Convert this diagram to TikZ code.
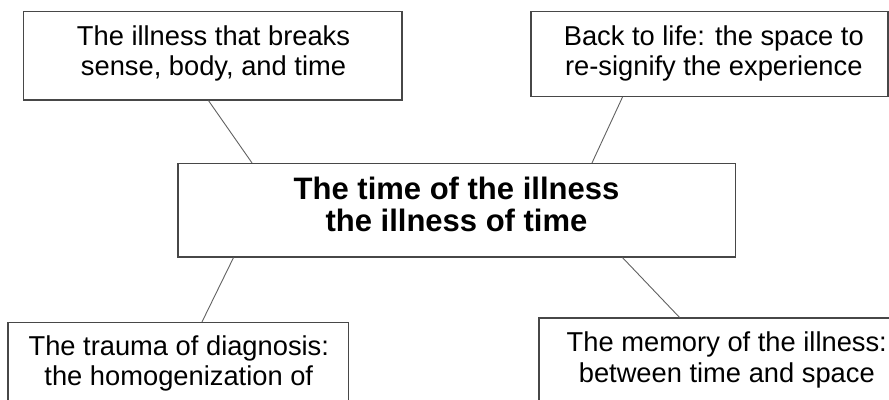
\documentclass[tikz,border=0pt]{standalone}
\usepackage{fontspec}
\setmainfont{Liberation Sans}
\begin{document}
\begin{tikzpicture}[x=1pt,y=-1pt,
  boxstyle/.style={draw=black!72, line width=1.2pt, rectangle, inner sep=0pt, fill=white},
  linkstyle/.style={draw=black!62, line width=0.9pt},
  txtstyle/.style={align=center, inner sep=0pt, anchor=north, font=\fontsize{27.3}{30.5}\selectfont},
  boldtxt/.style={align=center, inner sep=0pt, anchor=north, font=\bfseries\fontsize{31}{32}\selectfont}]
\useasboundingbox (0,0) rectangle (889,399);
\clip (0,0) rectangle (889,399);
% boxes
\node[boxstyle, minimum width=378.5pt, minimum height=88.5pt] (tl) at (212.75,55.75) {};
\node[boxstyle, minimum width=357pt, minimum height=85pt] (tr) at (709.5,54) {};
\node[boxstyle, minimum width=557.5pt, minimum height=93.5pt] (c) at (456.75,210.25) {};
\node[boxstyle, minimum width=340.5pt, minimum height=140pt] (bl) at (178.25,392.5) {};
\node[boxstyle, minimum width=376pt, minimum height=140pt] (br) at (727,388) {};
% texts
\node[txtstyle] (tlt) at (213.5,25.5) {The illness that breaks\\sense, body, and time};
\node[txtstyle] (trt) at (713.8,25.5) {Back to life: the space to\\re-signify the experience};
\node[boldtxt] (ct) at (456.5,176.5) {The time of the illness\\the illness of time};
\node[txtstyle] (blt) at (178.8,335.5) {The trauma of diagnosis:\\the homogenization of};
\node[txtstyle] (brt) at (726.8,332) {The memory of the illness:\\between time and space};
% connectors
\draw[linkstyle] ([xshift=-4.25pt]tl.south) -- ([xshift=-204.75pt]c.north);
\draw[linkstyle] ([xshift=-87pt]tr.south) -- ([xshift=135.25pt]c.north);
\draw[linkstyle] ([xshift=-223.25pt]c.south) -- ([xshift=23.75pt]bl.north);
\draw[linkstyle] ([xshift=165.75pt]c.south) -- ([xshift=-47.5pt]br.north);
\end{tikzpicture}
\end{document}
